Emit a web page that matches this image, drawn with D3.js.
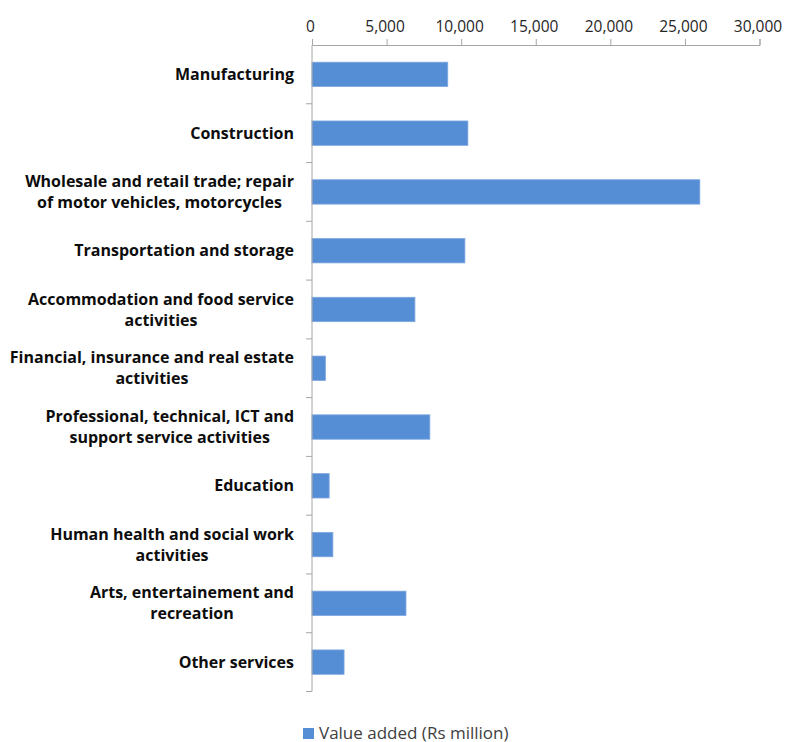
<!DOCTYPE html>
<html>
<head>
<meta charset="utf-8">
<script src="https://cdn.jsdelivr.net/npm/d3@7"></script>
<style>
  html, body { margin: 0; padding: 0; background: #ffffff; }
  svg { display: block; }
</style>
</head>
<body>
<svg id="chart" width="788" height="742"></svg>
<script>
// Sector labels (each entry is split into display lines)
const categories = [
  ["Manufacturing"],
  ["Construction"],
  ["Wholesale and retail trade; repair", "of motor vehicles, motorcycles"],
  ["Transportation and storage"],
  ["Accommodation and food service", "activities"],
  ["Financial, insurance and real estate", "activities"],
  ["Professional, technical, ICT and", "support service activities"],
  ["Education"],
  ["Human health and social work", "activities"],
  ["Arts, entertainement and", "recreation"],
  ["Other services"]
];

// Value added, Rs million
const valueAdded = [9100, 10450, 26000, 10250, 6900, 900, 7900, 1150, 1400, 6300, 2150];

const xTicks = [0, 5000, 10000, 15000, 20000, 25000, 30000];
const seriesName = "Value added (Rs million)";

const barColor = "#558ED5";
const barEdge = "#7FA8E0";
const axisColor = "#A6A6A6";
const fontFamily = "'Open Sans', sans-serif";

const svg = d3.select("#chart");
const plotLeft = 312, plotRight = 759.5, plotTop = 45, plotBottom = 691.5;

const x = d3.scaleLinear().domain([0, 30000]).range([plotLeft, plotRight]);
const y = d3.scaleBand()
  .domain(d3.range(categories.length))
  .range([plotTop, plotBottom])
  .paddingInner(0.585)
  .paddingOuter(0.2925);

// Bars
svg.append("g")
  .selectAll("rect")
  .data(valueAdded)
  .join("rect")
  .attr("x", x(0))
  .attr("y", (d, i) => y(i))
  .attr("width", d => x(d) - x(0))
  .attr("height", y.bandwidth())
  .attr("fill", barColor)
  .attr("stroke", barEdge)
  .attr("stroke-width", 0.8);

// Value axis along the top
const xAxis = svg.append("g")
  .attr("transform", `translate(0,${plotTop})`)
  .call(d3.axisTop(x).tickValues(xTicks).tickFormat(d3.format(",")).tickSize(6).tickPadding(7));
xAxis.select(".domain").attr("stroke", axisColor);
xAxis.selectAll(".tick line").attr("stroke", axisColor);
xAxis.selectAll(".tick text")
  .attr("font-family", fontFamily)
  .attr("font-size", 15.5)
  .attr("dx", -2)
  .attr("fill", "#262626");

// Category axis on the left, with ticks between categories
const yAxisG = svg.append("g");
yAxisG.append("line")
  .attr("x1", plotLeft).attr("x2", plotLeft)
  .attr("y1", plotTop).attr("y2", plotBottom)
  .attr("stroke", axisColor);
const step = y.step();
const boundaries = d3.range(categories.length).map(i => plotTop + (i + 1) * step);
yAxisG.selectAll("line.tick")
  .data(boundaries)
  .join("line")
  .attr("class", "tick")
  .attr("x1", plotLeft - 6).attr("x2", plotLeft)
  .attr("y1", d => d).attr("y2", d => d)
  .attr("stroke", axisColor);

// Category labels: right-aligned block, lines centred within the block
const labelRight = 294;
const lineHeight = 21;
const labels = svg.append("g")
  .attr("font-family", fontFamily)
  .attr("font-size", 16)
  .attr("font-weight", "bold")
  .attr("fill", "#0D0D0D")
  .attr("text-anchor", "middle");
categories.forEach((lines, i) => {
  const cy = y(i) + y.bandwidth() / 2;
  const t = labels.append("text")
    .attr("y", cy - (lines.length - 1) * lineHeight / 2);
  const spans = lines.map((ln, j) =>
    t.append("tspan")
      .attr("dy", j === 0 ? "0.35em" : lineHeight)
      .text(ln));
  const widest = d3.max(spans, s => s.node().getComputedTextLength());
  spans.forEach(s => s.attr("x", labelRight - widest / 2));
});

// Legend
const legend = svg.append("g").attr("transform", "translate(303,728)");
legend.append("rect")
  .attr("width", 11).attr("height", 11)
  .attr("fill", barColor);
legend.append("text")
  .attr("x", 16).attr("y", 10.5)
  .attr("font-family", fontFamily)
  .attr("font-size", 17)
  .attr("fill", "#404040")
  .text(seriesName);
</script>
</body>
</html>
